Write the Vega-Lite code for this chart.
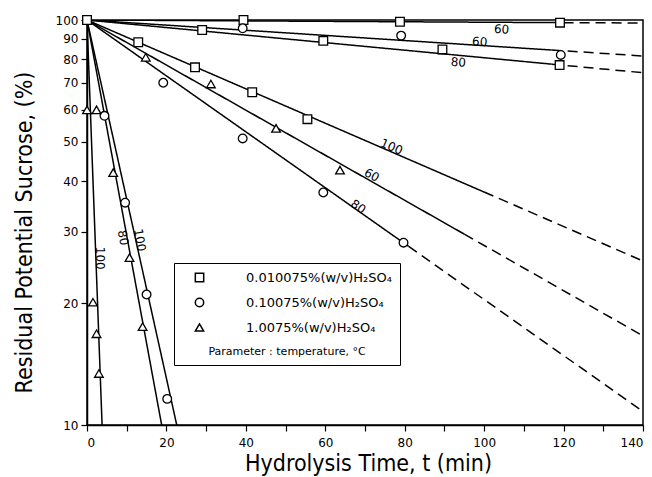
{
  "$schema": "https://vega.github.io/schema/vega-lite/v6.json",
  "width": 556,
  "height": 405,
  "autosize": {"type": "none"},
  "padding": {"left": 87, "top": 20, "right": 9, "bottom": 52},
  "background": "white",
  "config": {
    "view": {"stroke": "black", "strokeWidth": 1.5},
    "font": "DejaVu Sans",
    "axis": {
      "grid": false,
      "domainColor": "black",
      "domainWidth": 1.5,
      "tickColor": "black",
      "tickWidth": 1.2,
      "tickSize": 6,
      "labelColor": "black",
      "labelFont": "DejaVu Sans",
      "labelFontSize": 12,
      "titleColor": "black",
      "titleFont": "Liberation Sans Narrow, DejaVu Sans Condensed, Roboto",
      "titleFontSize": 23,
      "titleFontWeight": "normal"
    },
    "legend": {
      "labelFont": "DejaVu Sans",
      "titleFont": "DejaVu Sans"
    }
  },
  "datasets": {
    "fits": [
      {"line": "sq60", "part": "solid", "t": 0, "v": 100},
      {"line": "sq60", "part": "solid", "t": 120, "v": 98.5},
      {"line": "sq60", "part": "dashed", "t": 120, "v": 98.5},
      {"line": "sq60", "part": "dashed", "t": 140, "v": 98.3},
      {"line": "ci60", "part": "solid", "t": 0, "v": 100},
      {"line": "ci60", "part": "solid", "t": 117, "v": 84.3},
      {"line": "ci60", "part": "dashed", "t": 117, "v": 84.3},
      {"line": "ci60", "part": "dashed", "t": 140, "v": 81.5},
      {"line": "sq80", "part": "solid", "t": 0, "v": 100},
      {"line": "sq80", "part": "solid", "t": 117, "v": 77.8},
      {"line": "sq80", "part": "dashed", "t": 117, "v": 77.8},
      {"line": "sq80", "part": "dashed", "t": 140, "v": 74.1},
      {"line": "sq100", "part": "solid", "t": 0, "v": 100},
      {"line": "sq100", "part": "solid", "t": 100, "v": 37.6},
      {"line": "sq100", "part": "dashed", "t": 100, "v": 37.6},
      {"line": "sq100", "part": "dashed", "t": 140, "v": 25.4},
      {"line": "tr60", "part": "solid", "t": 0, "v": 100},
      {"line": "tr60", "part": "solid", "t": 95, "v": 29.6},
      {"line": "tr60", "part": "dashed", "t": 95, "v": 29.6},
      {"line": "tr60", "part": "dashed", "t": 140, "v": 16.6},
      {"line": "ci80", "part": "solid", "t": 0, "v": 100},
      {"line": "ci80", "part": "solid", "t": 81, "v": 27.6},
      {"line": "ci80", "part": "dashed", "t": 81, "v": 27.6},
      {"line": "ci80", "part": "dashed", "t": 140, "v": 10.8},
      {"line": "tr80", "part": "solid", "t": 0, "v": 100},
      {"line": "tr80", "part": "solid", "t": 18.8, "v": 10},
      {"line": "ci100", "part": "solid", "t": 0, "v": 100},
      {"line": "ci100", "part": "solid", "t": 22.6, "v": 10},
      {"line": "tr100", "part": "solid", "t": 0, "v": 100},
      {"line": "tr100", "part": "solid", "t": 3.8, "v": 10}
    ],
    "measured": [
      {"acid": "0.010075%(w/v)H₂SO₄", "t": 0, "v": 100},
      {"acid": "0.010075%(w/v)H₂SO₄", "t": 39.4, "v": 100},
      {"acid": "0.010075%(w/v)H₂SO₄", "t": 78.8, "v": 99.0},
      {"acid": "0.010075%(w/v)H₂SO₄", "t": 119.1, "v": 98.5},
      {"acid": "0.010075%(w/v)H₂SO₄", "t": 29, "v": 94.5},
      {"acid": "0.010075%(w/v)H₂SO₄", "t": 59.5, "v": 88.8},
      {"acid": "0.010075%(w/v)H₂SO₄", "t": 89.5, "v": 84.6},
      {"acid": "0.010075%(w/v)H₂SO₄", "t": 119, "v": 77.4},
      {"acid": "0.010075%(w/v)H₂SO₄", "t": 12.9, "v": 88.1},
      {"acid": "0.010075%(w/v)H₂SO₄", "t": 27.2, "v": 76.4},
      {"acid": "0.010075%(w/v)H₂SO₄", "t": 41.6, "v": 66.3},
      {"acid": "0.010075%(w/v)H₂SO₄", "t": 55.5, "v": 56.9},
      {"acid": "0.10075%(w/v)H₂SO₄", "t": 39.2, "v": 95.4},
      {"acid": "0.10075%(w/v)H₂SO₄", "t": 79.1, "v": 91.5},
      {"acid": "0.10075%(w/v)H₂SO₄", "t": 119.3, "v": 82.0},
      {"acid": "0.10075%(w/v)H₂SO₄", "t": 19.2, "v": 70.0},
      {"acid": "0.10075%(w/v)H₂SO₄", "t": 39.2, "v": 51.0},
      {"acid": "0.10075%(w/v)H₂SO₄", "t": 59.5, "v": 37.5},
      {"acid": "0.10075%(w/v)H₂SO₄", "t": 79.7, "v": 28.2},
      {"acid": "0.10075%(w/v)H₂SO₄", "t": 4.4, "v": 58.0},
      {"acid": "0.10075%(w/v)H₂SO₄", "t": 9.6, "v": 35.4},
      {"acid": "0.10075%(w/v)H₂SO₄", "t": 15.0, "v": 21.0},
      {"acid": "0.10075%(w/v)H₂SO₄", "t": 20.2, "v": 11.6},
      {"acid": "1.0075%(w/v)H₂SO₄", "t": 14.8, "v": 80.9},
      {"acid": "1.0075%(w/v)H₂SO₄", "t": 31.2, "v": 69.5},
      {"acid": "1.0075%(w/v)H₂SO₄", "t": 47.6, "v": 54.0},
      {"acid": "1.0075%(w/v)H₂SO₄", "t": 63.7, "v": 42.6},
      {"acid": "1.0075%(w/v)H₂SO₄", "t": 2.4, "v": 60.0},
      {"acid": "1.0075%(w/v)H₂SO₄", "t": 6.6, "v": 42.0},
      {"acid": "1.0075%(w/v)H₂SO₄", "t": 10.7, "v": 25.9},
      {"acid": "1.0075%(w/v)H₂SO₄", "t": 14.0, "v": 17.5},
      {"acid": "1.0075%(w/v)H₂SO₄", "t": 0, "v": 60.0},
      {"acid": "1.0075%(w/v)H₂SO₄", "t": 1.5, "v": 20.1},
      {"acid": "1.0075%(w/v)H₂SO₄", "t": 2.4, "v": 16.8},
      {"acid": "1.0075%(w/v)H₂SO₄", "t": 3.0, "v": 13.4}
    ],
    "temps": [
      {"group": "top", "text": "60", "t": 104.4, "v": 94.9},
      {"group": "top", "text": "60", "t": 98.9, "v": 88.4},
      {"group": "top", "text": "80", "t": 93.5, "v": 78.6},
      {"group": "mid100", "text": "100", "t": 76.7, "v": 48.6},
      {"group": "mid60", "text": "60", "t": 71.7, "v": 41.4},
      {"group": "mid80", "text": "80", "t": 68.3, "v": 34.6},
      {"group": "steep", "text": "80", "t": 9.1, "v": 29.0},
      {"group": "steep", "text": "100", "t": 13.3, "v": 28.6},
      {"group": "vertical", "text": "100", "t": 3.3, "v": 25.8}
    ]
  },
  "encoding": {
    "x": {
      "field": "t",
      "type": "quantitative",
      "scale": {"domain": [0, 140], "nice": false},
      "axis": {
        "values": [0, 10, 20, 30, 40, 50, 60, 70, 80, 90, 100, 110, 120, 130, 140],
        "labelExpr": "datum.value % 20 == 0 ? datum.label : ''",
        "labelPadding": 6,
        "title": "Hydrolysis Time,  t (min)",
        "titleX": 281,
        "titleY": 45,
        "titleBaseline": "alphabetic",
        "titleAlign": "center"
      }
    },
    "y": {
      "field": "v",
      "type": "quantitative",
      "scale": {"type": "log", "domain": [10, 100], "nice": false},
      "axis": {
        "values": [10, 20, 30, 40, 50, 60, 70, 80, 90, 100],
        "format": "d",
        "labelPadding": 3,
        "title": "Residual Potential Sucrose, (%)",
        "titleX": -63,
        "titleY": 212,
        "titleAngle": -90,
        "titleAlign": "center",
        "titleBaseline": "middle"
      }
    }
  },
  "layer": [
    {
      "data": {"name": "fits"},
      "mark": {"type": "line", "color": "black", "strokeWidth": 1.5, "clip": true},
      "encoding": {
        "detail": [{"field": "line"}, {"field": "part"}],
        "strokeDash": {
          "field": "part",
          "type": "nominal",
          "scale": {"domain": ["solid", "dashed"], "range": [[1, 0], [10, 6]]},
          "legend": null
        }
      }
    },
    {
      "data": {"name": "measured"},
      "mark": {"type": "point", "filled": false, "fill": "white", "fillOpacity": 1, "stroke": "black", "strokeWidth": 1.3, "size": 75, "opacity": 1},
      "encoding": {
        "shape": {
          "field": "acid",
          "type": "nominal",
          "scale": {
            "domain": ["0.010075%(w/v)H₂SO₄", "0.10075%(w/v)H₂SO₄", "1.0075%(w/v)H₂SO₄"],
            "range": ["square", "circle", "triangle-up"]
          },
          "legend": {
            "title": "Parameter : temperature, °C",
            "titleOrient": "bottom",
            "titleAnchor": "middle",
            "titleFontSize": 11,
            "titleFontWeight": "normal",
            "titleColor": "black",
            "titlePadding": 11,
            "orient": "none",
            "legendX": 87,
            "legendY": 243,
            "padding": 8,
            "symbolOffset": 11,
            "symbolSize": 70,
            "symbolType": "circle",
            "labelOffset": 40,
            "labelFontSize": 13,
            "labelColor": "black",
            "rowPadding": 10,
            "strokeColor": "black",
            "fillColor": "white",
            "encode": {
              "symbols": {
                "update": {
                  "fill": {"value": "white"},
                  "stroke": {"value": "black"},
                  "strokeWidth": {"value": 1.3},
                  "opacity": {"value": 1}
                }
              }
            }
          }
        }
      }
    },
    {
      "data": {"name": "temps"},
      "transform": [{"filter": "datum.group == 'top'"}],
      "mark": {"type": "text", "angle": 4, "fontSize": 12, "color": "black"},
      "encoding": {"text": {"field": "text"}}
    },
    {
      "data": {"name": "temps"},
      "transform": [{"filter": "datum.group == 'mid100'"}],
      "mark": {"type": "text", "angle": 23, "fontSize": 12, "color": "black"},
      "encoding": {"text": {"field": "text"}}
    },
    {
      "data": {"name": "temps"},
      "transform": [{"filter": "datum.group == 'mid60'"}],
      "mark": {"type": "text", "angle": 29, "fontSize": 12, "color": "black"},
      "encoding": {"text": {"field": "text"}}
    },
    {
      "data": {"name": "temps"},
      "transform": [{"filter": "datum.group == 'mid80'"}],
      "mark": {"type": "text", "angle": 34, "fontSize": 12, "color": "black"},
      "encoding": {"text": {"field": "text"}}
    },
    {
      "data": {"name": "temps"},
      "transform": [{"filter": "datum.group == 'steep'"}],
      "mark": {"type": "text", "angle": 80, "fontSize": 12, "color": "black"},
      "encoding": {"text": {"field": "text"}}
    },
    {
      "data": {"name": "temps"},
      "transform": [{"filter": "datum.group == 'vertical'"}],
      "mark": {"type": "text", "angle": 90, "fontSize": 12, "color": "black"},
      "encoding": {"text": {"field": "text"}}
    }
  ]
}
